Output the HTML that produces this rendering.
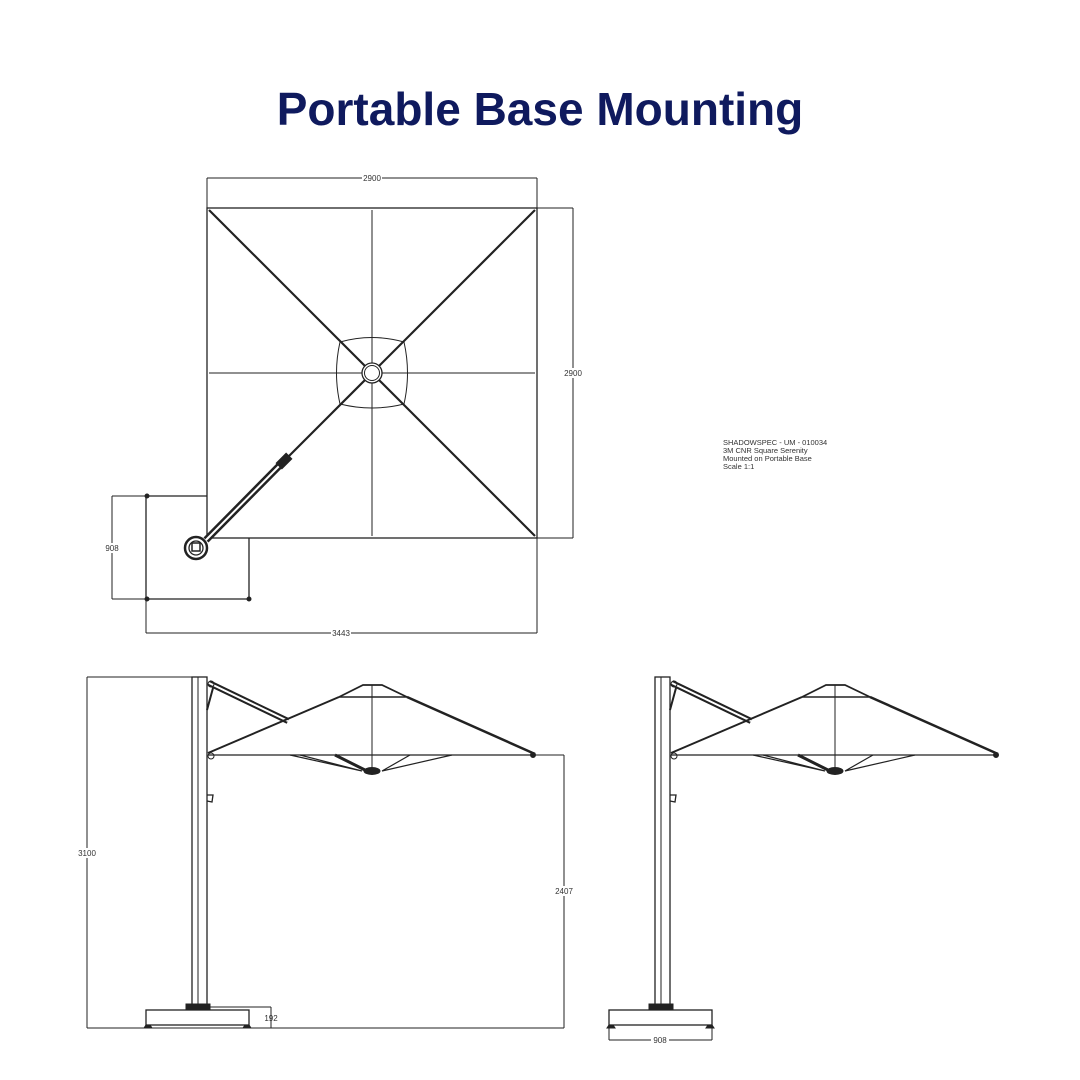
<!DOCTYPE html>
<html><head><meta charset="utf-8"><style>
html,body{margin:0;padding:0;background:#fff;}
svg{display:block;}
text{font-family:"Liberation Sans",sans-serif;}
</style></head><body>
<svg width="1080" height="1080" viewBox="0 0 1080 1080" xmlns="http://www.w3.org/2000/svg">
<rect width="1080" height="1080" fill="#fff"/>
<text x="540" y="125" text-anchor="middle" font-size="46" font-weight="bold" fill="#0f1a5e">Portable Base Mounting</text>

<!-- TOP VIEW -->
<g stroke="#222" fill="none" stroke-width="1">
  <line x1="207" y1="178" x2="537" y2="178"/>
  <line x1="207" y1="178" x2="207" y2="208"/>
  <line x1="537" y1="178" x2="537" y2="633"/>
  <line x1="537" y1="208" x2="573" y2="208"/>
  <line x1="537" y1="538" x2="573" y2="538"/>
  <line x1="573" y1="208" x2="573" y2="538"/>
  <line x1="146" y1="633" x2="537" y2="633"/>
  <line x1="146" y1="599" x2="146" y2="633"/>
  <line x1="112" y1="496" x2="146" y2="496"/>
  <line x1="112" y1="599" x2="146" y2="599"/>
  <line x1="112" y1="496" x2="112" y2="599"/>
  <rect x="207" y="208" width="330" height="330" stroke-width="1.3"/>
  <polyline points="207,496 146,496 146,599 249,599 249,538" stroke-width="1.3"/>
  <circle cx="147" cy="496" r="2" fill="#222"/>
  <circle cx="147" cy="599" r="2" fill="#222"/>
  <circle cx="249" cy="599" r="2" fill="#222"/>
  <line x1="209" y1="373" x2="535" y2="373"/>
  <line x1="372" y1="210" x2="372" y2="536"/>
  <line x1="209" y1="210" x2="365" y2="366" stroke-width="2.2"/>
  <line x1="535" y1="210" x2="379" y2="366" stroke-width="2.2"/>
  <line x1="535" y1="536" x2="379" y2="380" stroke-width="2.2"/>
  <line x1="365" y1="380" x2="289" y2="456" stroke-width="2.2"/>
  <line x1="287" y1="458" x2="206" y2="540" stroke-width="7" stroke="#222"/>
  <line x1="287" y1="458" x2="206" y2="540" stroke-width="2" stroke="#fff"/>
  <rect x="-4" y="-7" width="8" height="14" transform="translate(284,461) rotate(45)" fill="#222"/>
  <path d="M340,342 Q372,333 404,342 Q411,373 404,404 Q372,412 340,404 Q333,373 340,342 Z"/>
  <circle cx="372" cy="373" r="10" fill="#fff" stroke-width="1.3"/>
  <circle cx="372" cy="373" r="7.5"/>
  <circle cx="196" cy="548" r="11" stroke-width="2.5"/>
  <circle cx="196" cy="548" r="7" stroke-width="1.3"/>
  <rect x="192" y="543" width="8" height="8" stroke-width="1.5"/>
</g>
<g font-size="8" fill="#333" text-anchor="middle">
  <rect x="362" y="174" width="20" height="8" fill="#fff"/>
  <text x="372" y="181">2900</text>
  <rect x="562" y="368" width="22" height="10" fill="#fff"/>
  <text x="573" y="376">2900</text>
  <rect x="102" y="543" width="20" height="10" fill="#fff"/>
  <text x="112" y="551">908</text>
  <rect x="331" y="629" width="20" height="8" fill="#fff"/>
  <text x="341" y="636">3443</text>
</g>

<g font-size="7.5" fill="#333">
  <text x="723" y="445">SHADOWSPEC - UM - 010034</text>
  <text x="723" y="453">3M CNR Square Serenity</text>
  <text x="723" y="461">Mounted on Portable Base</text>
  <text x="723" y="469">Scale 1:1</text>
</g>

<defs>
<g id="umb" stroke="#222" fill="none" stroke-width="1">
  <rect x="192" y="677" width="15" height="330" stroke-width="1.3"/>
  <line x1="198" y1="677" x2="198" y2="1007"/>
  <rect x="146" y="1010" width="103" height="15" stroke-width="1.3"/>
  <rect x="186" y="1004" width="24" height="6" fill="#222"/>
  <path d="M144,1028 L146,1025 L150,1025 L152,1028 Z" fill="#222"/>
  <path d="M243,1028 L245,1025 L249,1025 L251,1028 Z" fill="#222"/>
  <line x1="209" y1="683" x2="288" y2="721" stroke-width="6"/>
  <line x1="209" y1="683" x2="288" y2="721" stroke-width="2" stroke="#fff"/>
  <line x1="213" y1="688" x2="207" y2="710" stroke-width="2"/>
  <circle cx="211" cy="684" r="3"/>
  <circle cx="211" cy="756" r="3"/>
  <path d="M207,795 L213,795 L212,802 L207,801" stroke-width="1.3"/>
  <line x1="208" y1="753" x2="339" y2="697" stroke-width="2"/>
  <line x1="208" y1="755" x2="535" y2="755" stroke-width="1.2"/>
  <polyline points="339,697 363,685 382,685 407,697" stroke-width="1.8"/>
  <line x1="339" y1="697" x2="407" y2="697" stroke-width="1.5"/>
  <line x1="407" y1="697" x2="535" y2="754" stroke-width="2.5"/>
  <circle cx="533" cy="755" r="2.5" fill="#222"/>
  <line x1="372" y1="685" x2="372" y2="772"/>
  <polyline points="290,755 362,771 300,755" stroke-width="1.2"/>
  <line x1="335" y1="755" x2="365" y2="770" stroke-width="3"/>
  <polyline points="452,755 382,771 410,755" stroke-width="1.2"/>
  <ellipse cx="372" cy="771" rx="8" ry="3.5" fill="#222"/>
</g>
</defs>
<use href="#umb"/>
<use href="#umb" transform="translate(463,0)"/>

<g stroke="#222" fill="none" stroke-width="1">
  <line x1="87" y1="677" x2="192" y2="677"/>
  <line x1="87" y1="677" x2="87" y2="1028"/>
  <line x1="87" y1="1028" x2="564" y2="1028"/>
  <line x1="535" y1="755" x2="564" y2="755"/>
  <line x1="564" y1="755" x2="564" y2="1028"/>
  <line x1="210" y1="1007" x2="271" y2="1007"/>
  <line x1="271" y1="1007" x2="271" y2="1028"/>
  <line x1="609" y1="1025" x2="609" y2="1040"/>
  <line x1="712" y1="1025" x2="712" y2="1040"/>
  <line x1="609" y1="1040" x2="712" y2="1040"/>
</g>
<g font-size="8" fill="#333" text-anchor="middle">
  <rect x="77" y="848" width="20" height="10" fill="#fff"/>
  <text x="87" y="856">3100</text>
  <rect x="554" y="886" width="20" height="10" fill="#fff"/>
  <text x="564" y="894">2407</text>
  <text x="271" y="1021">192</text>
  <rect x="651" y="1036" width="18" height="8" fill="#fff"/>
  <text x="660" y="1043">908</text>
</g>
</svg>
</body></html>
